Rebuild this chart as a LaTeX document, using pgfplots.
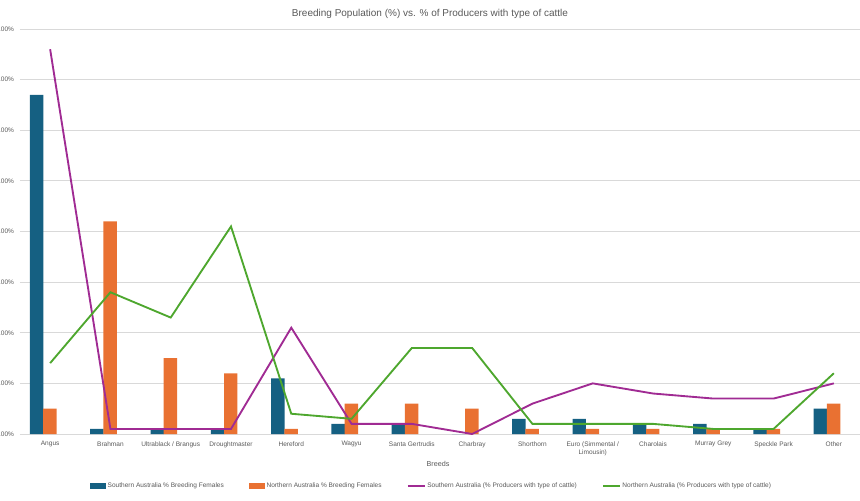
\documentclass[border=0pt]{standalone}
\usepackage{pgfplots}
\pgfplotsset{compat=1.18}
\usepackage{fontspec}
\setmainfont{Liberation Sans}
\definecolor{cblue}{HTML}{156082}
\definecolor{corange}{HTML}{E97132}
\definecolor{cpurple}{HTML}{A02B93}
\definecolor{cgreen}{HTML}{4EA72E}
\definecolor{txt}{HTML}{595959}
\definecolor{gridc}{HTML}{D9D9D9}
\begin{document}
\begin{tikzpicture}
\useasboundingbox (-15pt,-49.5pt) rectangle (630pt,325.5pt);
\clip (-15pt,-49.5pt) rectangle (630pt,325.5pt);
\begin{axis}[
  scale only axis, width=633pt, height=303.75pt,
  xmin=-0.5, xmax=13.5, ymin=0, ymax=80,
  axis x line*=bottom, axis y line*=left,
  x axis line style={gridc, line width=0.7pt, -},
  y axis line style={draw=none},
  ymajorgrids, xmajorgrids=false, grid style={gridc, line width=0.7pt},
  ytick={0,10,...,80},
  yticklabels={0.00\%,10.00\%,20.00\%,30.00\%,40.00\%,50.00\%,60.00\%,70.00\%,80.00\%},
  ytick style={draw=none},
  xtick={0,...,13}, xtick style={draw=none},
  xticklabels={Angus,Brahman,Ultrablack / Brangus,Droughtmaster,Hereford,Wagyu,Santa Gertrudis,Charbray,Shorthorn,{Euro (Simmental /\\Limousin)},Charolais,Murray Grey,Speckle Park,Other},
  xticklabel style={font=\fontsize{4.9}{6}\selectfont, text=txt, align=center, anchor=north, yshift=-2pt},
  yticklabel style={font=\fontsize{4.9}{6}\selectfont, text=txt, xshift=-1pt},
  title={Breeding Population (\%) vs. \% of Producers with type of cattle},
  title style={font=\fontsize{7.5}{9}\selectfont, text=txt, at={(axis description cs:0.5,1)}, anchor=center, yshift=5.5pt, xshift=-9pt},
  xlabel={Breeds},
  xlabel style={font=\fontsize{5.4}{6.5}\selectfont, text=txt, at={(axis description cs:0.5,0)}, anchor=center, yshift=-22.5pt, xshift=-3pt},
  legend style={at={(axis description cs:0.5,0)}, anchor=center, yshift=-39pt, xshift=-8pt, draw=none, font=\fontsize{4.9}{6}\selectfont, text=txt, /tikz/every even column/.append style={column sep=18pt}, nodes={inner xsep=1pt}},
  legend columns=4,
  legend cell align=left,
]
\addplot[ybar, bar width=10.1pt, bar shift=-10.1pt, fill=cblue, draw=none,
  legend image code/.code={\fill[cblue] (0pt,-2pt) rectangle (12pt,2pt);}]
  coordinates {(0,67) (1,1) (2,1) (3,1) (4,11) (5,2) (6,2) (7,0) (8,3) (9,3) (10,2) (11,2) (12,1) (13,5)};
\addlegendentry{Southern Australia \% Breeding Females}
\addplot[ybar, bar width=10.1pt, bar shift=-0.2pt, fill=corange, draw=none,
  legend image code/.code={\fill[corange] (0pt,-2pt) rectangle (12pt,2pt);}]
  coordinates {(0,5) (1,42) (2,15) (3,12) (4,1) (5,6) (6,6) (7,5) (8,1) (9,1) (10,1) (11,1) (12,1) (13,6)};
\addlegendentry{Northern Australia \% Breeding Females}
\addplot[cpurple, line width=1.4pt, sharp plot, no marks,
  legend image code/.code={\draw[cpurple, line width=1.2pt] (0pt,0pt) -- (13pt,0pt);}]
  coordinates {(0,76) (1,1) (2,1) (3,1) (4,21) (5,2) (6,2) (7,0) (8,6) (9,10) (10,8) (11,7) (12,7) (13,10)};
\addlegendentry{Southern Australia (\% Producers with type of cattle)}
\addplot[cgreen, line width=1.4pt, sharp plot, no marks,
  legend image code/.code={\draw[cgreen, line width=1.2pt] (0pt,0pt) -- (13pt,0pt);}]
  coordinates {(0,14) (1,28) (2,23) (3,41) (4,4) (5,3) (6,17) (7,17) (8,2) (9,2) (10,2) (11,1) (12,1) (13,12)};
\addlegendentry{Northern Australia (\% Producers with type of cattle)}
\end{axis}
\end{tikzpicture}
\end{document}
